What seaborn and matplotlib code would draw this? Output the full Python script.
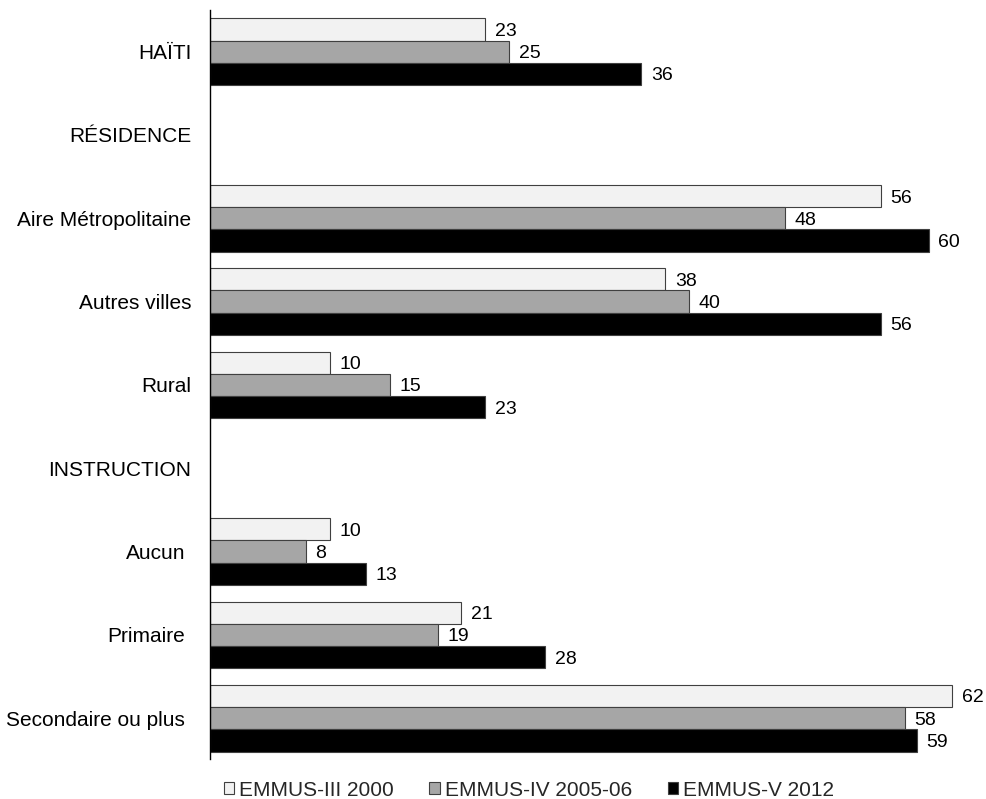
import matplotlib
matplotlib.use("Agg")
import matplotlib.pyplot as plt
from matplotlib.patches import Patch
from matplotlib.transforms import ScaledTranslation
import seaborn as sns
import pandas as pd

# Row labels (section headers carry no bars)
rows = ["HAÏTI", "RÉSIDENCE", "Aire Métropolitaine", "Autres villes", "Rural",
        "INSTRUCTION", "Aucun", "Primaire", "Secondaire ou plus"]
data_rows = ["HAÏTI", "Aire Métropolitaine", "Autres villes", "Rural",
             "Aucun", "Primaire", "Secondaire ou plus"]
surveys = ["EMMUS-III 2000", "EMMUS-IV 2005-06", "EMMUS-V 2012"]
emmus_iii = [23, 56, 38, 10, 10, 21, 62]
emmus_iv = [25, 48, 40, 15, 8, 19, 58]
emmus_v = [36, 60, 56, 23, 13, 28, 59]
colors = ["#f2f2f2", "#a6a6a6", "#000000"]

records = []
for s, vals in zip(surveys, [emmus_iii, emmus_iv, emmus_v]):
    for r, v in zip(data_rows, vals):
        records.append({"row": r, "survey": s, "value": v})
df = pd.DataFrame(records)

sns.set_theme(style="white")
plt.rcParams["font.family"] = ["Liberation Sans", "DejaVu Sans"]

fig = plt.figure(figsize=(9.86, 7.99), dpi=100)
ax = fig.add_axes([210 / 986, 1 - 759 / 799, (986 - 210) / 986, (759 - 10) / 799])

sns.barplot(data=df, y="row", x="value", hue="survey", order=rows,
            hue_order=surveys, palette=colors, orient="h", width=0.8,
            edgecolor="#404040", linewidth=0.8, saturation=1, ax=ax, legend=False)

for cont in ax.containers:
    texts = ax.bar_label(cont, fmt="%d", padding=7, fontsize=14, color="#000000")
    for t in texts:
        t.set_va("center_baseline")

ax.set_xlim(0, 64.8)
ax.set_ylim(8.49, -0.5)
ax.set_xlabel("")
ax.set_ylabel("")
ax.set_xticks([])
ax.tick_params(axis="y", length=0, pad=13.5, labelsize=15, colors="#000000")
for side in ["top", "right", "bottom"]:
    ax.spines[side].set_visible(False)
ax.spines["left"].set_color("#000000")
ax.spines["left"].set_linewidth(1.0)

# The instruction sub-rows sit slightly further left
shift = ScaledTranslation(-6 / 100, 0, fig.dpi_scale_trans)
for lab in ax.get_yticklabels():
    if lab.get_text() in ("Aucun", "Primaire", "Secondaire ou plus"):
        lab.set_transform(lab.get_transform() + shift)

handles = [Patch(facecolor=c, edgecolor="#404040", linewidth=0.8, label=s)
           for c, s in zip(colors, surveys)]
fig.legend(handles=handles, loc="center", bbox_to_anchor=(529 / 986, 1 - 790 / 799),
           ncol=3, frameon=False, fontsize=15, handlelength=0.5, handleheight=0.5,
           handletextpad=0.25, columnspacing=1.7, borderpad=0, borderaxespad=0)

fig.savefig("out.png", dpi=100, facecolor="white")
